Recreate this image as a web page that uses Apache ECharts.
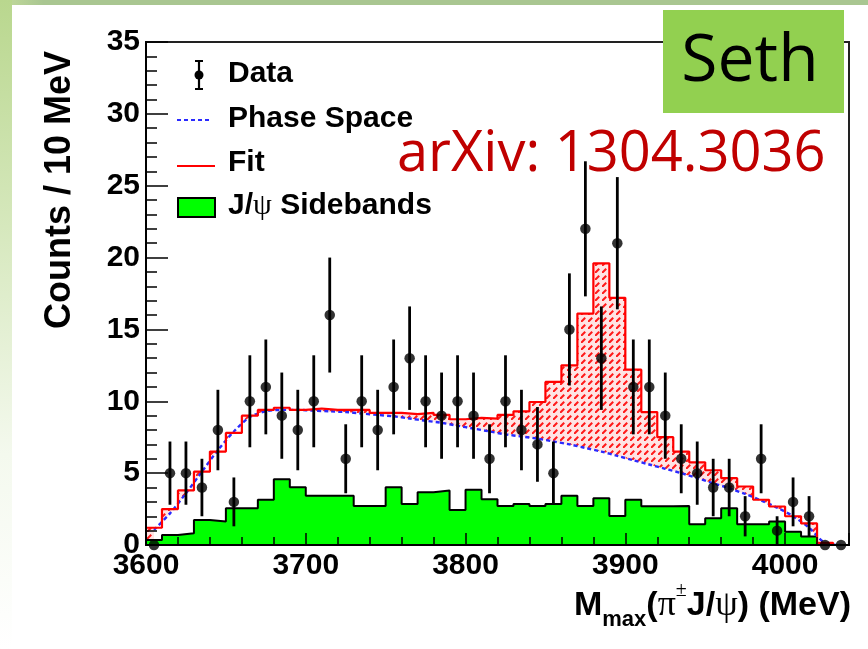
<!DOCTYPE html>
<html><head><meta charset="utf-8">
<script src="https://cdn.jsdelivr.net/npm/echarts@6/dist/echarts.min.js"></script>
<style>html,body{margin:0;padding:0;background:#fff}#c{width:868px;height:649px}</style>
</head><body><div id="c"></div>
<script>
// ---- data (10 MeV bins, low edges) ----
const binLow = [3600,3610,3620,3630,3640,3650,3660,3670,3680,3690,
                3700,3710,3720,3730,3740,3750,3760,3770,3780,3790,
                3800,3810,3820,3830,3840,3850,3860,3870,3880,3890,
                3900,3910,3920,3930,3940,3950,3960,3970,3980,3990,
                4000,4010,4020,4030];
const binWidth = 10;
const dataCounts = [0,5,5,4,8,3,10,11,9,8, 10,16,6,10,8,11,13,10,9,10,
                    9,6,10,8,7,5,15,22,13,21, 11,11,9,6,5,4,4,2,6,1, 3,2,0,0];
const dataErrors = [0,2.2,2.2,2,2.8,1.7,3.2,3.3,3,2.8, 3.2,4,2.4,3.2,2.8,3.3,3.6,3.2,3,3.2,
                    3,2.4,3.2,2.8,2.6,2.2,3.9,4.7,3.6,4.6, 3.3,3.3,3,2.4,2.2,2,2,1.4,2.4,1, 1.7,1.4,0,0];
const fitCounts = [1.2,2.5,3.8,5.1,6.5,7.8,9.0,9.4,9.55,9.4, 9.5,9.4,9.4,9.4,9.2,9.2,9.1,9.2,9.05,8.75,
                   8.85,8.8,9.05,9.3,9.95,11.35,12.5,16.1,19.6,17.2, 12.2,9.25,7.5,6.5,5.75,5.2,4.65,4.07,3.15,2.68,
                   2.0,1.5,0.15,0];
const phaseSpace = [1.05,2.2,3.6,5.1,6.6,7.9,8.9,9.3,9.4,9.4, 9.35,9.3,9.25,9.15,9.05,8.95,8.8,8.65,8.5,8.3,
                    8.1,7.9,7.7,7.55,7.4,7.2,7.0,6.75,6.5,6.2, 5.9,5.6,5.3,5.0,4.65,4.3,3.95,3.55,3.1,2.6,
                    2.0,1.2,0.15,0];
const sidebands = [0.35,0.7,0.82,1.74,1.63,2.56,2.56,3.14,4.58,4.02, 3.42,3.42,3.42,2.72,2.72,4.02,2.86,3.67,3.79,2.44,
                   3.84,3.19,2.72,2.86,2.72,2.86,3.42,2.72,3.26,2.02, 3.14,2.7,2.7,2.72,1.44,1.86,2.56,1.44,1.44,1.63,
                   0.93,0.6,0,0];
const xMin = 3600, xMax = 4040, yMin = 0, yMax = 35;
const xTickLabels = ['3600','3700','3800','3900','4000'];
const yTickLabels = ['0','5','10','15','20','25','30','35'];

// ---- helpers ----
const centers = binLow.map(x => x + binWidth / 2);
const stepData = arr => binLow.map((x, i) => [x, arr[i]]).concat([[binLow[binLow.length-1] + binWidth, arr[arr.length-1]]]);

// hatch pattern
const pc = document.createElement('canvas');
pc.width = 7; pc.height = 7;
const g = pc.getContext('2d');
g.fillStyle = '#ffe4e4'; g.fillRect(0,0,7,7);
g.strokeStyle = '#ff1a1a'; g.lineWidth = 2; g.lineCap = 'butt';
g.beginPath(); g.moveTo(0,7); g.lineTo(4.2,2.8); g.stroke();

const SANS = '"Liberation Sans", Arial, sans-serif';
const SERIF = '"Liberation Serif", "DejaVu Serif", serif';

const chart = echarts.init(document.getElementById('c'), null, {renderer:'canvas'});
chart.setOption({
  animation: false,
  backgroundColor: '#fff',
  grid: {left: 146, right: 19, top: 42, bottom: 104, show: true, borderColor: '#222', borderWidth: 2, backgroundColor: 'transparent'},
  xAxis: {
    type: 'value', min: xMin, max: xMax, interval: 100, z: 10,
    axisLine: {show: true, onZero: false, lineStyle: {color: '#000', width: 2}},
    axisTick: {show: true, inside: true, length: 12, lineStyle: {color: '#000', width: 1.5}},
    minorTick: {show: true, splitNumber: 5, length: 8, lineStyle: {color: '#000', width: 1.5}},
    splitLine: {show: false},
    axisLabel: {show: true, margin: 6, color: '#000', fontFamily: SANS, fontWeight: 'bold', fontSize: 30, showMaxLabel: false,
      formatter: v => { const i = xTickLabels.indexOf(String(v)); return i >= 0 ? xTickLabels[i] : ''; }}
  },
  yAxis: {
    type: 'value', min: yMin, max: yMax, interval: 5, z: 10,
    axisLine: {show: true, lineStyle: {color: '#000', width: 2}},
    axisTick: {show: true, inside: true, length: 22, lineStyle: {color: '#000', width: 1.5}},
    minorTick: {show: true, splitNumber: 5, length: 11, lineStyle: {color: '#000', width: 1.5}},
    splitLine: {show: false},
    axisLabel: {show: true, margin: 6, color: '#000', fontFamily: SANS, fontWeight: 'bold', fontSize: 30,
      formatter: v => { const i = yTickLabels.indexOf(String(v)); return i >= 0 ? yTickLabels[i] : ''; }}
  },
  series: [
    { // fit region hatched
      type: 'line', step: 'end', data: stepData(fitCounts), symbol: 'none', z: 1,
      lineStyle: {width: 0, opacity: 0}, areaStyle: {color: {image: pc, repeat: 'repeat'}, opacity: 1}
    },
    { // area below phase space (blank)
      type: 'line', smooth: 0.3, data: centers.map((x, i) => [x, phaseSpace[i]]), symbol: 'none', z: 2,
      lineStyle: {width: 0, opacity: 0}, areaStyle: {color: '#ffffff', opacity: 1}
    },
    { // J/psi sidebands
      type: 'line', step: 'end', data: stepData(sidebands), symbol: 'none', z: 3,
      lineStyle: {color: '#000', width: 2}, areaStyle: {color: '#00ff00', opacity: 1}
    },
    { // phase space
      type: 'line', smooth: 0.3, data: centers.map((x, i) => [x, phaseSpace[i]]), symbol: 'none', z: 4,
      lineStyle: {color: '#2a2aff', width: 2.4, type: [4, 3]}
    },
    { // fit
      type: 'line', step: 'end', data: stepData(fitCounts), symbol: 'none', z: 5,
      lineStyle: {color: '#ff0000', width: 2.2}
    },
    { // error bars
      type: 'custom', z: 6, clip: false,
      data: centers.map((x, i) => [x, dataCounts[i], dataErrors[i]]),
      renderItem: (params, api) => {
        const x = api.value(0), v = api.value(1), e = api.value(2);
        if (!(e > 0)) return null;
        const p1 = api.coord([x, v + e]), p2 = api.coord([x, Math.max(0, v - e)]);
        return {type: 'line', shape: {x1: p1[0], y1: p1[1], x2: p2[0], y2: p2[1]}, style: {stroke: '#000', lineWidth: 2.8}};
      }
    },
    { // data points
      type: 'scatter', z: 7, clip: false, symbol: 'circle', symbolSize: 10.5,
      itemStyle: {color: '#000'},
      data: centers.map((x, i) => [x, dataCounts[i]])
    }
  ],
  graphic: [
    // slide decoration
    {type: 'rect', z: 0, shape: {x: 0, y: 0, width: 868, height: 5},
      style: {fill: new echarts.graphic.LinearGradient(0, 0, 1, 0, [{offset: 0, color: '#c4dc9c'}, {offset: 0.05, color: '#a9c691'}, {offset: 1, color: '#a9c691'}])}},
    {type: 'rect', z: 0, shape: {x: 0, y: 0, width: 12, height: 649},
      style: {fill: new echarts.graphic.LinearGradient(0, 0, 0, 1, [{offset: 0, color: '#b9d78e'}, {offset: 0.35, color: '#d6e8bd'}, {offset: 0.7, color: '#f4f9ee'}, {offset: 1, color: '#ffffff'}])}},
    // Seth box
    {type: 'rect', z: 100, shape: {x: 663, y: 10, width: 181, height: 103}, style: {fill: '#92d050'}},
    {type: 'text', z: 101, style: {text: 'Seth', x: 750, y: 62, align: 'center', verticalAlign: 'middle',
      font: '66px "Open Sans", sans-serif', fill: '#000'}},
    {type: 'text', z: 101, style: {text: 'arXiv: 1304.3036', x: 397, y: 155, align: 'left', verticalAlign: 'middle',
      font: '56px "Open Sans", sans-serif', fill: '#c00000'}},
    // legend
    {type: 'line', z: 50, shape: {x1: 199, y1: 61, x2: 199, y2: 89}, style: {stroke: '#000', lineWidth: 2.2}},
    {type: 'line', z: 50, shape: {x1: 195, y1: 61, x2: 203, y2: 61}, style: {stroke: '#000', lineWidth: 2}},
    {type: 'line', z: 50, shape: {x1: 195, y1: 89, x2: 203, y2: 89}, style: {stroke: '#000', lineWidth: 2}},
    {type: 'circle', z: 50, shape: {cx: 199, cy: 75, r: 4.5}, style: {fill: '#000'}},
    {type: 'text', z: 50, style: {text: 'Data', x: 228, y: 74, verticalAlign: 'middle', font: 'bold 30px ' + SANS, fill: '#000'}},
    {type: 'line', z: 50, shape: {x1: 177, y1: 120, x2: 212, y2: 120}, style: {stroke: '#2a2aff', lineWidth: 2, lineDash: [4, 3]}},
    {type: 'text', z: 50, style: {text: 'Phase Space', x: 228, y: 119, verticalAlign: 'middle', font: 'bold 30px ' + SANS, fill: '#000'}},
    {type: 'line', z: 50, shape: {x1: 177, y1: 166, x2: 215, y2: 166}, style: {stroke: '#ff0000', lineWidth: 2}},
    {type: 'text', z: 50, style: {text: 'Fit', x: 228, y: 163, verticalAlign: 'middle', font: 'bold 30px ' + SANS, fill: '#000'}},
    {type: 'rect', z: 50, shape: {x: 178, y: 198, width: 37, height: 19}, style: {fill: '#00ff00', stroke: '#000', lineWidth: 2}},
    {type: 'text', z: 50, style: {text: '{b|J/}{g|ψ}{b| Sidebands}', x: 228, y: 206, verticalAlign: 'middle',
      rich: {b: {fontFamily: SANS, fontWeight: 'bold', fontSize: 30, fill: '#000', lineHeight: 34},
             g: {fontFamily: SERIF, fontSize: 30, fill: '#000', lineHeight: 34}}}},
    // axis titles
    {type: 'text', z: 50, rotation: Math.PI / 2, x: 60, y: 190,
      style: {text: 'Counts / 10 MeV', x: 0, y: 0, align: 'center', verticalAlign: 'middle', font: 'bold 36px ' + SANS, fill: '#000'}},
    {type: 'text', z: 50, style: {text: '{b|M}{s|max}{b|(}{g|π}{p|±}{b|J/}{g|ψ}{b|) (MeV)}', x: 851, y: 606, align: 'right', verticalAlign: 'middle',
      rich: {b: {fontFamily: SANS, fontWeight: 'bold', fontSize: 34, fill: '#000', lineHeight: 50},
             g: {fontFamily: SERIF, fontSize: 36, fill: '#000', lineHeight: 50},
             s: {fontFamily: SANS, fontWeight: 'bold', fontSize: 22, fill: '#000', lineHeight: 24, verticalAlign: 'bottom'},
             p: {fontFamily: SERIF, fontSize: 20, fill: '#000', lineHeight: 32, verticalAlign: 'top'}}}}
  ]
});
</script></body></html>
